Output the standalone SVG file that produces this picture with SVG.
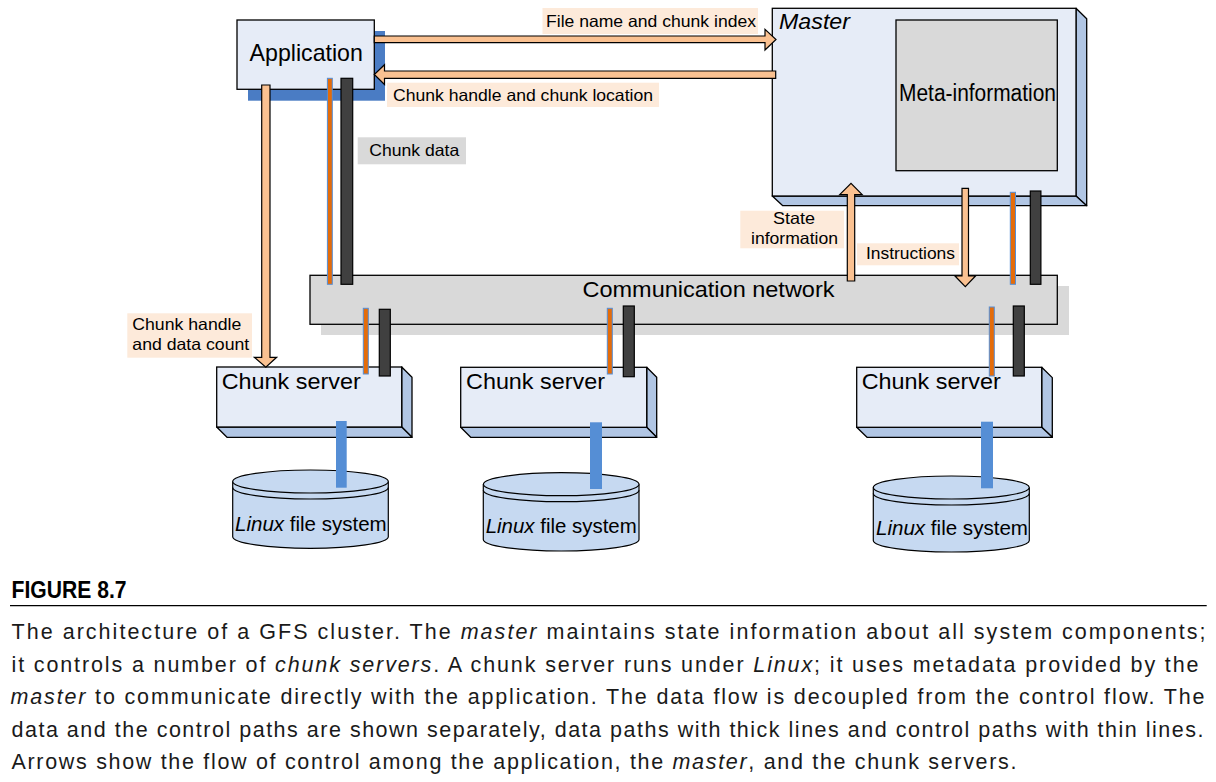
<svg xmlns="http://www.w3.org/2000/svg" width="1216" height="782" viewBox="0 0 1216 782">
  <defs>
    <style>
      text { font-family: "Liberation Sans", Arial, sans-serif; fill: #000; }
      .box { fill: #E6ECF7; stroke: #000; stroke-width: 1.3; }
      .side { fill: #B1C6E4; stroke: #000; stroke-width: 1.3; stroke-linejoin: round; }
      .gray { fill: #D9D9D9; stroke: #000; stroke-width: 1.3; }
      .shadow { fill: #D9D9D9; }
      .arrow { fill: #FAC191; stroke: #000; stroke-width: 1.2; stroke-linejoin: miter; }
      .lbl { fill: #FDEADA; }
      .ctrl { fill: #E46C0A; stroke: #558ED5; stroke-width: 1; }
      .data { fill: #404040; stroke: #000; stroke-width: 1.2; }
      .link { fill: #558ED5; }
      .disk { fill: #C6D9F1; stroke: #000; stroke-width: 1.2; }
      .small { font-size: 16.5px; }
      .cap { font-size: 21.5px; fill: #1a1a1a; }
      .it { font-style: italic; }
    </style>
  </defs>

  <!-- Communication network -->
  <g id="network">
    <rect class="shadow" x="321" y="286" width="748" height="49"/>
    <rect class="gray" x="310" y="275.3" width="747.3" height="49"/>
    <text x="582.5" y="296.7" font-size="22" textLength="252" lengthAdjust="spacingAndGlyphs">Communication network</text>
  </g>

  <!-- Application -->
  <g id="application">
    <rect x="248" y="31" width="137" height="69.7" fill="#4A7CC4"/>
    <rect class="box" x="237" y="20" width="137.3" height="69.3"/>
    <text x="249.6" y="60.7" font-size="24" textLength="113.3" lengthAdjust="spacingAndGlyphs">Application</text>
  </g>

  <!-- Master -->
  <g id="master">
    <polygon class="side" points="1076,8.3 1086.7,18.8 1086.7,205.7 1076,196"/>
    <polygon class="side" points="772.3,196 1076,196 1086.7,205.7 782.8,205.7"/>
    <rect class="box" x="772.3" y="8.3" width="303.7" height="187.7"/>
    <text class="it" x="779" y="28.5" font-size="22" textLength="71" lengthAdjust="spacingAndGlyphs">Master</text>
  </g>
  <g id="meta-information">
    <rect class="gray" x="896" y="20" width="161.3" height="150.7"/>
    <text x="899" y="100.7" font-size="23" textLength="157" lengthAdjust="spacingAndGlyphs">Meta-information</text>
  </g>

  <!-- Chunk servers -->
  <g id="chunk-server-1">
    <polygon class="side" points="401.7,367 412,377.3 412,437.3 401.7,427"/>
    <polygon class="side" points="216.7,427 401.7,427 412,437.3 227,437.3"/>
    <rect class="box" x="216.7" y="367" width="185" height="60"/>
    <text x="221.7" y="389.3" font-size="22" textLength="139" lengthAdjust="spacingAndGlyphs">Chunk server</text>
  </g>
  <g id="chunk-server-2">
    <polygon class="side" points="646.7,367.3 656.7,377.3 656.7,437.3 646.7,427.3"/>
    <polygon class="side" points="460.7,427.3 646.7,427.3 656.7,437.3 470.7,437.3"/>
    <rect class="box" x="460.7" y="367.3" width="186" height="60"/>
    <text x="466" y="389.3" font-size="22" textLength="139" lengthAdjust="spacingAndGlyphs">Chunk server</text>
  </g>
  <g id="chunk-server-3">
    <polygon class="side" points="1041.7,367.3 1052.3,377.6 1052.3,437.3 1041.7,427.3"/>
    <polygon class="side" points="856.7,427.3 1041.7,427.3 1052.3,437.3 867,437.3"/>
    <rect class="box" x="856.7" y="367.3" width="185" height="60"/>
    <text x="861.7" y="389.3" font-size="22" textLength="139" lengthAdjust="spacingAndGlyphs">Chunk server</text>
  </g>

  <!-- Linux file systems -->
  <g id="fs-1">
    <path class="disk" d="M232.7,481.5 L232.7,536.8 A77.8,11.5 0 0 0 388.3,536.8 L388.3,481.5"/>
    <ellipse class="disk" cx="310.5" cy="481.5" rx="77.8" ry="11.5"/>
    <path d="M232.7,487.5 A77.8,11.5 0 0 0 388.3,487.5" fill="none" stroke="#000" stroke-width="1.2"/>
    <text x="235" y="531" font-size="19.5" textLength="151.7" lengthAdjust="spacingAndGlyphs"><tspan class="it">Linux</tspan> file system</text>
  </g>
  <g id="fs-2">
    <path class="disk" d="M483.3,484.2 L483.3,539.5 A77.8,11.5 0 0 0 639,539.5 L639,484.2"/>
    <ellipse class="disk" cx="561.2" cy="484.2" rx="77.8" ry="11.5"/>
    <path d="M483.3,490.2 A77.8,11.5 0 0 0 639,490.2" fill="none" stroke="#000" stroke-width="1.2"/>
    <text x="485.7" y="532.7" font-size="19.5" textLength="151" lengthAdjust="spacingAndGlyphs"><tspan class="it">Linux</tspan> file system</text>
  </g>
  <g id="fs-3">
    <path class="disk" d="M873.3,487.5 L873.3,540.5 A78,11.5 0 0 0 1029.3,540.5 L1029.3,487.5"/>
    <ellipse class="disk" cx="951.3" cy="487.5" rx="78" ry="11.5"/>
    <path d="M873.3,493.5 A78,11.5 0 0 0 1029.3,493.5" fill="none" stroke="#000" stroke-width="1.2"/>
    <text x="876" y="535" font-size="19.5" textLength="152" lengthAdjust="spacingAndGlyphs"><tspan class="it">Linux</tspan> file system</text>
  </g>

  <!-- Connectors -->
  <g id="connectors">
    <!-- control arrows -->
    <polygon class="arrow" points="374.3,36 765,36 765,29.3 776,39.5 765,50 765,42.7 374.3,42.7"/>
    <polygon class="arrow" points="775.7,71 384.5,71 384.5,64.7 374.3,74.5 384.5,84.5 384.5,78.3 775.7,78.3"/>
    <polygon class="arrow" points="261.7,85 270,85 270,357.3 276.7,357.3 265.8,367.3 254.3,357.3 261.7,357.3"/>
    <polygon class="arrow" points="847.3,281 847.3,194.7 839.7,194.7 851,183.3 862.2,194.7 854.7,194.7 854.7,281"/>
    <polygon class="arrow" points="962,188.3 968.5,188.3 968.5,276 975.5,276 965.3,286.7 955,276 962,276"/>

    <!-- data / control bars: application - network -->
    <rect class="ctrl" x="327.4" y="78.3" width="4.9" height="206"/>
    <rect class="data" x="341" y="78.3" width="11.7" height="206"/>
    <!-- master - network -->
    <rect class="ctrl" x="1010.3" y="192.3" width="5.2" height="92"/>
    <rect class="data" x="1030.3" y="191" width="10.6" height="93.3"/>
    <!-- network - chunk servers -->
    <rect class="ctrl" x="363.3" y="308.3" width="5" height="65.7"/>
    <rect class="data" x="379.3" y="309.3" width="11" height="66.7"/>
    <rect class="ctrl" x="607.3" y="308.3" width="5" height="65.7"/>
    <rect class="data" x="623.3" y="306" width="11" height="70.7"/>
    <rect class="ctrl" x="989.3" y="307" width="5" height="69"/>
    <rect class="data" x="1013.3" y="306" width="11" height="70"/>

    <!-- chunk server - file system links -->
    <rect class="link" x="336" y="421" width="10.7" height="66.7"/>
    <rect class="link" x="590" y="422.3" width="12" height="66.7"/>
    <rect class="link" x="981" y="421.7" width="12" height="66.6"/>
  </g>

  <!-- Connector labels -->
  <g id="labels">
    <rect class="lbl" x="542.5" y="8" width="215.5" height="26"/>
    <text class="small" x="546" y="26.7" textLength="210" lengthAdjust="spacingAndGlyphs">File name and chunk index</text>

    <rect class="lbl" x="387" y="82.7" width="272" height="24.3"/>
    <text class="small" x="393" y="100.7" textLength="260" lengthAdjust="spacingAndGlyphs">Chunk handle and chunk location</text>

    <rect x="357.7" y="137.3" width="108.3" height="27" fill="#D9D9D9"/>
    <text class="small" x="369.3" y="155.7" textLength="90" lengthAdjust="spacingAndGlyphs">Chunk data</text>

    <rect class="lbl" x="740.3" y="210.7" width="103.7" height="37.6"/>
    <text class="small" x="773" y="224.3" textLength="42" lengthAdjust="spacingAndGlyphs">State</text>
    <text class="small" x="751" y="244.3" textLength="87" lengthAdjust="spacingAndGlyphs">information</text>

    <rect class="lbl" x="857" y="243.3" width="102" height="22"/>
    <text class="small" x="866" y="259" textLength="89" lengthAdjust="spacingAndGlyphs">Instructions</text>

    <rect class="lbl" x="127.3" y="313.3" width="124.7" height="44.4"/>
    <text class="small" x="132.3" y="330" textLength="109" lengthAdjust="spacingAndGlyphs">Chunk handle</text>
    <text class="small" x="132.3" y="350" textLength="117" lengthAdjust="spacingAndGlyphs">and data count</text>
  </g>

  <!-- Caption -->
  <g id="caption">
    <text x="11.5" y="597.7" font-size="23" font-weight="bold" textLength="115" lengthAdjust="spacingAndGlyphs">FIGURE 8.7</text>
    <line x1="10" y1="605.7" x2="1206.7" y2="605.7" stroke="#000" stroke-width="1.3"/>
    <text class="cap" x="11.5" y="639.3" textLength="1194" lengthAdjust="spacing">The architecture of a GFS cluster. The <tspan class="it">master</tspan> maintains state information about all system components;</text>
    <text class="cap" x="11.5" y="671.8" textLength="1187" lengthAdjust="spacing">it controls a number of <tspan class="it">chunk servers</tspan>. A chunk server runs under <tspan class="it">Linux</tspan>; it uses metadata provided by the</text>
    <text class="cap" x="10.5" y="704.3" textLength="1194" lengthAdjust="spacing"><tspan class="it">master</tspan> to communicate directly with the application. The data flow is decoupled from the control flow. The</text>
    <text class="cap" x="11.5" y="736.8" textLength="1192" lengthAdjust="spacing">data and the control paths are shown separately, data paths with thick lines and control paths with thin lines.</text>
    <text class="cap" x="11.5" y="769.3" textLength="1005" lengthAdjust="spacing">Arrows show the flow of control among the application, the <tspan class="it">master</tspan>, and the chunk servers.</text>
  </g>
</svg>
